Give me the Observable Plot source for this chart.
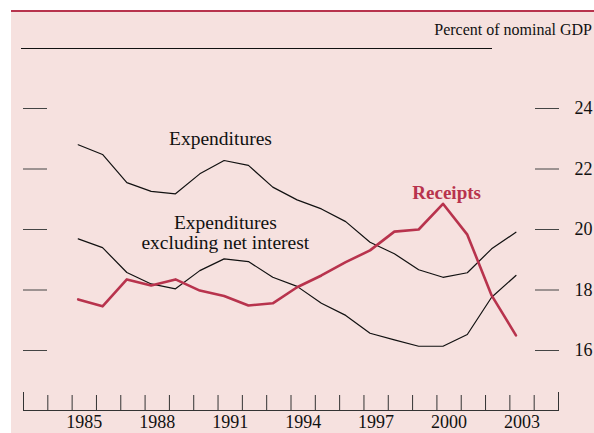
<!DOCTYPE html>
<html><head><meta charset="utf-8">
<script src="https://cdn.jsdelivr.net/npm/d3@7"></script>
<script src="https://cdn.jsdelivr.net/npm/@observablehq/plot@0.6"></script>
<style>
body{margin:0;background:#fff;}
#wrap{position:relative;width:594px;height:433px;overflow:hidden;font-family:"Liberation Serif","Times New Roman",serif;}
#panel{position:absolute;left:11px;top:10px;right:0;bottom:0;background:#f6e1df;border-top:2.5px solid #b8334d;}
#rule{position:absolute;left:21px;top:47.5px;width:471px;height:0;border-top:1.3px solid #111;}
#unit{position:absolute;right:2px;top:21px;font-size:16px;color:#111;}
#chart{position:absolute;left:0;top:0;}
</style></head><body>
<div id="wrap"><div id="panel"></div><div id="rule"></div><div id="unit">Percent of nominal GDP</div><div id="chart"></div></div>
<script>
const years = d3.range(1985, 2004);
const expenditures = [22.80,22.48,21.55,21.26,21.18,21.84,22.28,22.12,21.40,20.98,20.68,20.26,19.58,19.20,18.67,18.42,18.57,19.36,19.91];
const expendituresExNetInterest = [19.69,19.40,18.58,18.20,18.04,18.64,19.03,18.94,18.42,18.12,17.56,17.16,16.57,16.35,16.14,16.14,16.53,17.76,18.48];
const receipts = [17.69,17.46,18.35,18.15,18.35,17.98,17.80,17.49,17.56,18.09,18.48,18.92,19.31,19.93,20.00,20.85,19.83,17.82,16.50];
const yTicks = [16,18,20,22,24];
const xTickYears = d3.range(1983, 2006);
const xEndTicks = [1983, 2005];
const xLabelYears = [1985,1988,1991,1994,1997,2000,2003];

const RED = "#b8334d";
const rows = years.map((yr,i)=>({x: yr + 0.25, exp: expenditures[i], exn: expendituresExNetInterest[i], rec: receipts[i]}));

const font = '"Liberation Serif","Times New Roman",serif';
const chart = Plot.plot({
  width: 594, height: 433,
  marginLeft: 23, marginRight: 36, marginTop: 108, marginBottom: 83,
  style: {background: "transparent", fontFamily: font, fontSize: "18px", color: "#111", overflow: "visible"},
  x: {domain: [1983, 2005]},
  y: {domain: [16, 24]},
  marks: [
    Plot.axisY({ticks: yTicks, anchor: "left", tickSize: -24, tickFormat: () => "", stroke: "#444", label: null}),
    Plot.axisY({ticks: yTicks, anchor: "right", tickSize: -24, tickPadding: 40, stroke: "#444", fill: "#111", fontSize: 18, label: null}),
    Plot.frame({anchor: "bottom", dy: 60, stroke: "#333"}),
    Plot.axisX({ticks: xTickYears, tickSize: -15, tickFormat: () => "", dy: 60, stroke: "#333", label: null}),
    Plot.axisX({ticks: xEndTicks, tickSize: -18, tickFormat: () => "", dy: 60, stroke: "#333", label: null}),
    Plot.axisX({ticks: xLabelYears.map(d => d + 0.5), tickSize: 0, tickPadding: 5, dy: 60, tickFormat: d => String(d - 0.5), fill: "#111", fontSize: 18, label: null}),
    Plot.line(rows, {x: "x", y: "exp", stroke: "#111", strokeWidth: 1.2}),
    Plot.line(rows, {x: "x", y: "exn", stroke: "#111", strokeWidth: 1.2}),
    Plot.line(rows, {x: "x", y: "rec", stroke: RED, strokeWidth: 2.6}),
    Plot.text(["Expenditures"], {x: 1991.1, y: 23.0, text: d => d, fontSize: 19.5, fill: "#111"}),
    Plot.text(["Expenditures\nexcluding net interest"], {x: 1991.3, y: 19.9, text: d => d, fontSize: 19.5, lineHeight: 1.03, fill: "#111"}),
    Plot.text(["Receipts"], {x: 2000.4, y: 21.22, text: d => d, fontSize: 19, fontWeight: "bold", fill: RED})
  ]
});
document.getElementById("chart").appendChild(chart);
</script>
</body></html>
